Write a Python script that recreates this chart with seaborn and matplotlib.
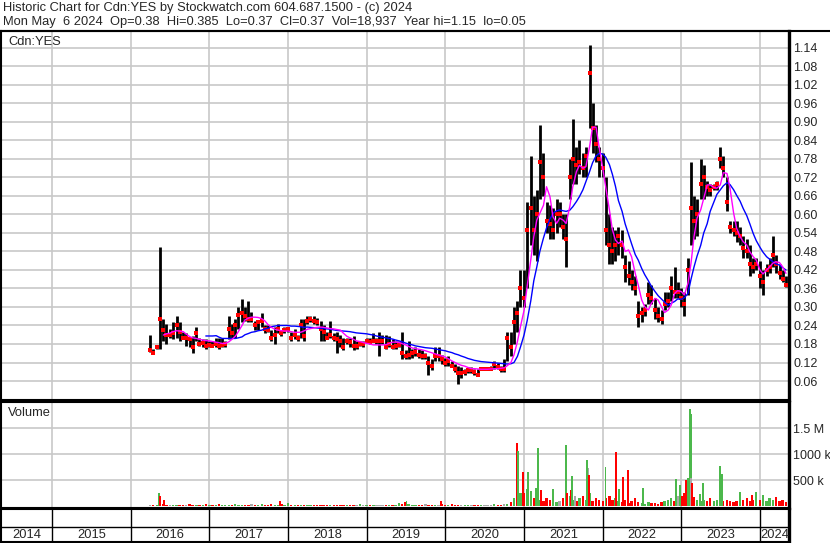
import numpy as np
import pandas as pd
import matplotlib
matplotlib.use("Agg")
import matplotlib.pyplot as plt
import matplotlib.dates as mdates
from matplotlib.lines import Line2D
import seaborn as sns

sns.set_style("white")
plt.rcParams['font.family'] = ['Liberation Sans', 'DejaVu Sans']

# ------------------------------------------------------------
# data: semi-monthly high / low / close ($)
# ------------------------------------------------------------
bar_dates = pd.date_range("2016-04-01", "2024-05-01", freq="SMS")

high_16 = [0.21, 0.165, 0.17, 0.495, 0.26, 0.245, 0.23, 0.25, 0.27, 0.25, 0.22, 0.215, 0.2, 0.205, 0.235, 0.2, 0.195, 0.195]
low_16 = [0.155, 0.15, 0.165, 0.165, 0.19, 0.18, 0.2, 0.195, 0.2, 0.19, 0.195, 0.175, 0.17, 0.15, 0.19, 0.175, 0.17, 0.165]
close_16 = [0.16, 0.15, 0.17, 0.26, 0.225, 0.21, 0.21, 0.215, 0.24, 0.22, 0.2, 0.2, 0.195, 0.17, 0.215, 0.18, 0.182, 0.175]

high_17 = [0.19, 0.19, 0.2, 0.2, 0.2, 0.19, 0.27, 0.245, 0.26, 0.3, 0.325, 0.3, 0.32, 0.285, 0.255, 0.255, 0.28, 0.24, 0.24, 0.225, 0.235, 0.245, 0.225, 0.235]
low_17 = [0.17, 0.17, 0.17, 0.165, 0.17, 0.17, 0.195, 0.2, 0.2, 0.23, 0.25, 0.255, 0.25, 0.25, 0.225, 0.225, 0.235, 0.215, 0.22, 0.19, 0.18, 0.215, 0.205, 0.215]
close_17 = [0.177, 0.175, 0.18, 0.175, 0.178, 0.18, 0.23, 0.215, 0.24, 0.275, 0.28, 0.27, 0.26, 0.26, 0.24, 0.25, 0.255, 0.23, 0.225, 0.2, 0.21, 0.23, 0.215, 0.225]

high_18 = [0.235, 0.22, 0.23, 0.21, 0.26, 0.26, 0.27, 0.27, 0.27, 0.265, 0.255, 0.24, 0.22, 0.255, 0.215, 0.22, 0.21, 0.2, 0.2, 0.2, 0.205, 0.19, 0.19, 0.19]
low_18 = [0.22, 0.19, 0.195, 0.19, 0.2, 0.19, 0.245, 0.25, 0.245, 0.24, 0.19, 0.19, 0.195, 0.2, 0.19, 0.15, 0.17, 0.16, 0.18, 0.17, 0.16, 0.165, 0.175, 0.17]
close_18 = [0.23, 0.2, 0.21, 0.2, 0.24, 0.205, 0.255, 0.26, 0.255, 0.25, 0.23, 0.22, 0.2, 0.21, 0.2, 0.195, 0.19, 0.17, 0.19, 0.185, 0.175, 0.175, 0.18, 0.18]

high_19 = [0.2, 0.2, 0.215, 0.2, 0.22, 0.21, 0.21, 0.205, 0.195, 0.19, 0.19, 0.22, 0.16, 0.19, 0.165, 0.17, 0.165, 0.16, 0.15, 0.14, 0.13, 0.17, 0.17, 0.145]
low_19 = [0.185, 0.18, 0.185, 0.18, 0.14, 0.18, 0.165, 0.17, 0.165, 0.165, 0.17, 0.13, 0.13, 0.13, 0.135, 0.14, 0.135, 0.13, 0.13, 0.08, 0.095, 0.125, 0.125, 0.115]
close_19 = [0.19, 0.185, 0.19, 0.19, 0.19, 0.19, 0.17, 0.18, 0.17, 0.175, 0.178, 0.15, 0.14, 0.145, 0.15, 0.155, 0.145, 0.14, 0.14, 0.12, 0.11, 0.14, 0.14, 0.13]

high_20 = [0.135, 0.14, 0.125, 0.115, 0.11, 0.105, 0.1, 0.105, 0.105, 0.1, 0.1, 0.105, 0.105, 0.105, 0.11, 0.125, 0.12, 0.11, 0.13, 0.22, 0.22, 0.3, 0.32, 0.42]
low_20 = [0.11, 0.11, 0.105, 0.09, 0.05, 0.07, 0.08, 0.085, 0.085, 0.08, 0.075, 0.095, 0.095, 0.095, 0.095, 0.1, 0.1, 0.09, 0.09, 0.125, 0.14, 0.18, 0.22, 0.3]
close_20 = [0.12, 0.125, 0.11, 0.1, 0.085, 0.085, 0.09, 0.095, 0.095, 0.09, 0.08, 0.1, 0.1, 0.1, 0.1, 0.115, 0.105, 0.1, 0.1, 0.2, 0.17, 0.25, 0.28, 0.36]

high_21 = [0.42, 0.64, 0.79, 0.66, 0.68, 0.89, 0.8, 0.64, 0.63, 0.62, 0.65, 0.64, 0.6, 0.6, 0.78, 0.91, 0.82, 0.84, 0.8, 0.82, 1.15, 0.96, 0.89, 0.82]
low_21 = [0.3, 0.36, 0.5, 0.47, 0.45, 0.65, 0.66, 0.54, 0.52, 0.52, 0.54, 0.56, 0.52, 0.43, 0.65, 0.7, 0.7, 0.73, 0.72, 0.72, 0.88, 0.8, 0.77, 0.72]
close_21 = [0.33, 0.55, 0.62, 0.55, 0.6, 0.77, 0.72, 0.58, 0.57, 0.55, 0.6, 0.6, 0.56, 0.52, 0.72, 0.78, 0.76, 0.77, 0.75, 0.79, 1.06, 0.88, 0.83, 0.78]

high_22 = [0.8, 0.72, 0.6, 0.56, 0.55, 0.56, 0.55, 0.47, 0.45, 0.42, 0.4, 0.32, 0.3, 0.31, 0.38, 0.37, 0.33, 0.3, 0.29, 0.35, 0.35, 0.4, 0.43, 0.38]
low_22 = [0.72, 0.5, 0.44, 0.44, 0.45, 0.47, 0.46, 0.38, 0.37, 0.355, 0.34, 0.236, 0.25, 0.27, 0.31, 0.31, 0.26, 0.25, 0.245, 0.29, 0.3, 0.32, 0.33, 0.33]
close_22 = [0.75, 0.55, 0.5, 0.48, 0.5, 0.53, 0.5, 0.43, 0.4, 0.38, 0.36, 0.27, 0.28, 0.29, 0.34, 0.33, 0.29, 0.27, 0.26, 0.31, 0.32, 0.36, 0.35, 0.35]

high_23 = [0.36, 0.35, 0.46, 0.77, 0.66, 0.65, 0.78, 0.76, 0.71, 0.7, 0.7, 0.71, 0.82, 0.79, 0.72, 0.58, 0.58, 0.58, 0.56, 0.53, 0.52, 0.5, 0.46, 0.46]
low_23 = [0.3, 0.27, 0.34, 0.5, 0.52, 0.53, 0.65, 0.65, 0.66, 0.66, 0.68, 0.68, 0.75, 0.72, 0.61, 0.54, 0.53, 0.51, 0.5, 0.46, 0.46, 0.4, 0.41, 0.42]
close_23 = [0.33, 0.31, 0.42, 0.62, 0.58, 0.6, 0.7, 0.72, 0.69, 0.68, 0.69, 0.7, 0.78, 0.75, 0.64, 0.56, 0.55, 0.54, 0.53, 0.49, 0.48, 0.44, 0.43, 0.44]

high_24 = [0.45, 0.42, 0.44, 0.46, 0.53, 0.47, 0.44, 0.42, 0.4]
low_24 = [0.36, 0.34, 0.4, 0.41, 0.43, 0.41, 0.39, 0.38, 0.365]
close_24 = [0.4, 0.38, 0.42, 0.43, 0.47, 0.44, 0.41, 0.39, 0.37]

# moving averages (magenta = 50 day, blue = 200 day)
ma50_16 = [0.209, 0.213, 0.215, 0.22, 0.223, 0.222, 0.22, 0.212, 0.204, 0.2, 0.198, 0.195, 0.193, 0.191]
ma50_17 = [0.19, 0.188, 0.186, 0.184, 0.182, 0.182, 0.187, 0.195, 0.205, 0.22, 0.24, 0.258, 0.264, 0.267, 0.267, 0.266, 0.262, 0.255, 0.242, 0.234, 0.228, 0.225, 0.223, 0.222]
ma50_18 = [0.222, 0.22, 0.218, 0.218, 0.218, 0.222, 0.228, 0.23, 0.232, 0.234, 0.235, 0.234, 0.232, 0.23, 0.229, 0.227, 0.225, 0.215, 0.205, 0.2, 0.195, 0.19, 0.188, 0.185]
ma50_19 = [0.182, 0.18, 0.177, 0.177, 0.177, 0.177, 0.178, 0.182, 0.186, 0.186, 0.185, 0.181, 0.177, 0.172, 0.167, 0.165, 0.163, 0.161, 0.158, 0.155, 0.151, 0.148, 0.144, 0.141]
ma50_20 = [0.138, 0.132, 0.125, 0.12, 0.115, 0.111, 0.108, 0.104, 0.1, 0.1, 0.099, 0.098, 0.098, 0.098, 0.099, 0.1, 0.1, 0.101, 0.103, 0.11, 0.12, 0.145, 0.188, 0.236]
ma50_21 = [0.29, 0.366, 0.453, 0.528, 0.582, 0.604, 0.63, 0.69, 0.658, 0.593, 0.571, 0.588, 0.582, 0.571, 0.625, 0.69, 0.739, 0.76, 0.75, 0.755, 0.82, 0.883, 0.883, 0.82]
ma50_22 = [0.75, 0.69, 0.615, 0.55, 0.517, 0.506, 0.514, 0.48, 0.485, 0.463, 0.409, 0.371, 0.323, 0.301, 0.29, 0.312, 0.328, 0.323, 0.301, 0.282, 0.29, 0.306, 0.344, 0.353]
ma50_23 = [0.35, 0.339, 0.377, 0.442, 0.528, 0.588, 0.615, 0.652, 0.696, 0.696, 0.688, 0.685, 0.696, 0.736, 0.733, 0.685, 0.604, 0.555, 0.528, 0.512, 0.501, 0.479, 0.463, 0.452]
ma50_24 = [0.42, 0.407, 0.42, 0.431, 0.442, 0.447, 0.444, 0.431, 0.409]

ma200_16 = [0.206]
ma200_17 = [0.206, 0.206, 0.207, 0.202, 0.198, 0.198, 0.198, 0.198, 0.198, 0.2, 0.203, 0.21, 0.214, 0.218, 0.22, 0.223, 0.225, 0.229, 0.231, 0.236, 0.238, 0.24, 0.24, 0.24]
ma200_18 = [0.24, 0.238, 0.238, 0.237, 0.236, 0.234, 0.235, 0.234, 0.233, 0.232, 0.231, 0.23, 0.229, 0.228, 0.226, 0.224, 0.223, 0.222, 0.221, 0.22, 0.218, 0.216, 0.215, 0.214]
ma200_19 = [0.213, 0.211, 0.209, 0.206, 0.204, 0.202, 0.2, 0.198, 0.196, 0.193, 0.19, 0.187, 0.183, 0.18, 0.177, 0.174, 0.172, 0.17, 0.168, 0.167, 0.166, 0.164, 0.162, 0.16]
ma200_20 = [0.158, 0.155, 0.152, 0.148, 0.145, 0.141, 0.137, 0.133, 0.13, 0.127, 0.125, 0.123, 0.122, 0.121, 0.12, 0.119, 0.118, 0.117, 0.116, 0.115, 0.116, 0.12, 0.14, 0.17]
ma200_21 = [0.21, 0.255, 0.32, 0.385, 0.43, 0.48, 0.524, 0.556, 0.585, 0.604, 0.612, 0.615, 0.612, 0.61, 0.614, 0.625, 0.642, 0.658, 0.68, 0.707, 0.739, 0.768, 0.79, 0.798]
ma200_22 = [0.796, 0.786, 0.762, 0.73, 0.692, 0.645, 0.61, 0.57, 0.535, 0.505, 0.47, 0.452, 0.425, 0.405, 0.385, 0.367, 0.35, 0.337, 0.326, 0.316, 0.306, 0.312, 0.318, 0.326]
ma200_23 = [0.325, 0.33, 0.344, 0.39, 0.43, 0.465, 0.5, 0.54, 0.57, 0.61, 0.64, 0.665, 0.68, 0.693, 0.703, 0.697, 0.68, 0.662, 0.643, 0.62, 0.596, 0.57, 0.538, 0.515]
ma200_24 = [0.494, 0.478, 0.463, 0.455, 0.447, 0.44, 0.436, 0.428, 0.42]

# volume (millions of shares): semi-monthly background + single-day spikes
vol_16 = [0.03, 0.02, 0.03, 0.06, 0.04, 0.03, 0.02, 0.02, 0.03, 0.02, 0.02, 0.03, 0.04, 0.02, 0.02, 0.03, 0.02, 0.04]
vol_17 = [0.02, 0.03, 0.02, 0.04, 0.02, 0.03, 0.02, 0.03, 0.04, 0.02, 0.03, 0.03, 0.02, 0.04, 0.03, 0.02, 0.05, 0.03, 0.02, 0.05, 0.03, 0.02, 0.04, 0.02]
vol_18 = [0.06, 0.03, 0.02, 0.03, 0.02, 0.03, 0.02, 0.02, 0.03, 0.02, 0.03, 0.02, 0.02, 0.03, 0.02, 0.03, 0.02, 0.02, 0.03, 0.02, 0.02, 0.03, 0.04, 0.03]
vol_19 = [0.02, 0.02, 0.03, 0.02, 0.03, 0.02, 0.02, 0.03, 0.02, 0.03, 0.06, 0.04, 0.08, 0.04, 0.03, 0.02, 0.03, 0.02, 0.04, 0.02, 0.03, 0.02, 0.03, 0.04]
vol_20 = [0.03, 0.02, 0.04, 0.03, 0.02, 0.02, 0.03, 0.02, 0.03, 0.02, 0.02, 0.03, 0.02, 0.03, 0.02, 0.05, 0.03, 0.02, 0.04, 0.05, 0.08, 0.15, 0.3, 0.25]
vol_21 = [0.25, 0.2, 0.3, 0.15, 0.2, 0.12, 0.1, 0.15, 0.12, 0.1, 0.08, 0.1, 0.15, 0.08, 0.2, 0.12, 0.1, 0.15, 0.2, 0.12, 0.25, 0.1, 0.15, 0.12]
vol_22 = [0.1, 0.15, 0.2, 0.12, 0.15, 0.1, 0.08, 0.12, 0.07, 0.1, 0.15, 0.08, 0.06, 0.05, 0.08, 0.06, 0.07, 0.05, 0.08, 0.1, 0.12, 0.15, 0.1, 0.2]
vol_23 = [0.2, 0.25, 0.2, 0.15, 0.18, 0.12, 0.1, 0.12, 0.1, 0.15, 0.1, 0.12, 0.15, 0.1, 0.12, 0.1, 0.08, 0.1, 0.15, 0.12, 0.15, 0.1, 0.12, 0.1]
vol_24 = [0.12, 0.15, 0.1, 0.15, 0.12, 0.18, 0.1, 0.12, 0.08]

spike_dates = ["2016-05-13", "2016-05-17", "2016-06-03", "2017-11-24", "2019-07-05",
               "2019-12-13", "2020-11-27", "2020-12-04", "2020-12-28", "2021-01-13",
               "2021-01-21", "2021-02-25", "2021-03-08", "2021-03-19", "2021-05-13",
               "2021-07-16", "2021-07-20", "2021-08-06", "2021-08-10", "2021-08-25",
               "2021-10-22", "2021-10-27", "2021-10-29", "2022-01-14", "2022-03-02",
               "2022-03-17", "2022-04-04", "2022-04-27", "2022-07-05", "2022-12-06",
               "2022-12-28", "2023-01-23", "2023-01-30", "2023-02-09", "2023-02-14",
               "2023-02-16", "2023-02-20", "2023-03-27", "2023-04-10", "2023-06-28",
               "2023-07-07", "2023-09-29", "2023-11-24", "2023-12-15", "2024-01-15"]
spike_vol = [0.25, 0.2, 0.12, 0.1, 0.1,
             0.1, 1.22, 1.07, 0.66, 0.34,
             0.66, 0.36, 1.125, 0.32, 0.34,
             1.18, 0.26, 0.32, 0.58, 0.2,
             0.89, 0.73, 0.6, 0.76, 1.05,
             0.34, 0.57, 0.7, 0.36, 0.52,
             0.41, 0.5, 0.55, 1.88, 1.77,
             0.54, 0.44, 0.23, 0.44, 0.77,
             0.63, 0.27, 0.22, 0.27, 0.22]
spike_dir = ["up", "down", "down", "down", "up",
             "down", "down", "up", "down", "up",
             "up", "up", "up", "down", "up",
             "up", "down", "down", "up", "flat",
             "up", "flat", "down", "up", "down",
             "up", "down", "down", "up", "up",
             "up", "down", "up", "up", "up",
             "flat", "down", "up", "up", "up",
             "up", "up", "down", "up", "up"]

year_labels = ["2014", "2015", "2016", "2017", "2018", "2019", "2020", "2021", "2022", "2023", "2024"]
price_ticks = [0.06, 0.12, 0.18, 0.24, 0.30, 0.36, 0.42, 0.48, 0.54, 0.60,
               0.66, 0.72, 0.78, 0.84, 0.90, 0.96, 1.02, 1.08, 1.14]
vol_ticks = [500e3, 1000e3, 1500e3]
vol_tick_labels = ["500 k", "1000 k", "1.5 M"]

# ------------------------------------------------------------
# assemble
# ------------------------------------------------------------
high = high_16 + high_17 + high_18 + high_19 + high_20 + high_21 + high_22 + high_23 + high_24
low = low_16 + low_17 + low_18 + low_19 + low_20 + low_21 + low_22 + low_23 + low_24
close = close_16 + close_17 + close_18 + close_19 + close_20 + close_21 + close_22 + close_23 + close_24
ma50 = ma50_16 + ma50_17 + ma50_18 + ma50_19 + ma50_20 + ma50_21 + ma50_22 + ma50_23 + ma50_24
ma200 = ma200_16 + ma200_17 + ma200_18 + ma200_19 + ma200_20 + ma200_21 + ma200_22 + ma200_23 + ma200_24
vol = vol_16 + vol_17 + vol_18 + vol_19 + vol_20 + vol_21 + vol_22 + vol_23 + vol_24

bars = pd.DataFrame({"date": bar_dates, "high": high, "low": low, "close": close,
                     "vol": np.array(vol) * 1e6})
ma50_df = pd.DataFrame({"date": bar_dates[-len(ma50):], "ma": ma50})
ma200_df = pd.DataFrame({"date": bar_dates[-len(ma200):], "ma": ma200})

dir_colors = {"up": "#4cb84c", "down": "#ff0000", "flat": "#a8a8a8"}
chg = np.sign(np.diff(np.r_[close[0], close]))
bars["vcolor"] = [dir_colors["up"] if c > 0 else dir_colors["down"] if c < 0 else dir_colors["flat"] for c in chg]

spikes = pd.DataFrame({"date": pd.to_datetime(spike_dates),
                       "vol": np.array(spike_vol) * 1e6,
                       "color": [dir_colors[d] for d in spike_dir]})

# ------------------------------------------------------------
# figure layout (pixel based, 830 x 543)
# ------------------------------------------------------------
W, H = 830, 543
fig = plt.figure(figsize=(W / 100, H / 100), dpi=100)


def panel(x0, y0, x1, y1):
    return fig.add_axes([x0 / W, 1 - y1 / H, (x1 - x0) / W, (y1 - y0) / H])


ax = panel(1, 31, 789, 400)
axv = panel(1, 402, 789, 508)
axd = panel(1, 509, 789, 542)

x_start, x_end = pd.Timestamp("2014-05-09"), pd.Timestamp("2024-05-15")
grid_kw = dict(color="#c8c8c8", lw=1.2)

for a in (ax, axv, axd):
    a.set_xlim(x_start, x_end)
    for s in a.spines.values():
        s.set_color("black")
        s.set_linewidth(1.5)
    a.spines["right"].set_linewidth(2.4)

# ---------------- price panel ----------------
ax.vlines(bars["date"], bars["low"], bars["high"], color="black", lw=2.0, zorder=3)
sns.scatterplot(data=bars, x="date", y="close", marker="s", s=7, color="#ff0000",
                linewidth=0, ax=ax, zorder=4)
sns.lineplot(data=ma200_df, x="date", y="ma", color="#0000ff", lw=1.0, ax=ax, zorder=5)
sns.lineplot(data=ma50_df, x="date", y="ma", color="#ff00ff", lw=1.0, ax=ax, zorder=6)

ax.set_xlim(x_start, x_end)
ax.set_ylim(-0.0016, 1.195)
ax.set_yticks(price_ticks)
ax.set_yticklabels([f"{v:.2f}" for v in price_ticks])
ax.yaxis.tick_right()
ax.xaxis.set_major_locator(mdates.YearLocator())
ax.tick_params(axis="y", length=0, pad=3, labelsize=9)
ax.tick_params(axis="x", length=0, labelbottom=False)
ax.grid(True, **grid_kw)
ax.set_axisbelow(True)
ax.set_xlabel("")
ax.set_ylabel("")
ax.text(7 / 788, 1 - 11 / 369, "Cdn:YES", transform=ax.transAxes, fontsize=9.3,
        va="center", ha="left")

# ---------------- volume panel ----------------
axv.bar(bars["date"], bars["vol"], width=11, color=bars["vcolor"], linewidth=0, zorder=3)
axv.bar(spikes["date"], spikes["vol"], width=9, color=spikes["color"], linewidth=0, zorder=4)
axv.set_xlim(x_start, x_end)
axv.set_ylim(-0.033e6, 2.006e6)
axv.set_yticks(vol_ticks)
axv.set_yticklabels(vol_tick_labels)
axv.yaxis.tick_right()
axv.xaxis.set_major_locator(mdates.YearLocator())
axv.tick_params(axis="y", length=0, pad=3, labelsize=9)
axv.tick_params(axis="x", length=0, labelbottom=False)
axv.grid(True, **grid_kw)
axv.set_axisbelow(True)
axv.text(7 / 788, 1 - 11 / 106, "Volume", transform=axv.transAxes, fontsize=9.3,
         va="center", ha="left")

# ---------------- date strip ----------------
axd.set_ylim(0, 1)
axd.set_xticks([])
axd.set_yticks([])
bounds = [x_start] + [pd.Timestamp(f"{y}-01-01") for y in range(2015, 2025)] + [x_end]
for b in bounds[1:-1]:
    axd.axvline(b, color="black", lw=1.0)
axd.axhline(0.45, color="black", lw=1.0)
for lab, b0, b1 in zip(year_labels, bounds[:-1], bounds[1:]):
    axd.text(b0 + (b1 - b0) / 2, 0.22, lab, ha="center", va="center", fontsize=9.3)

# ---------------- header ----------------
fig.add_artist(Line2D([0, 1], [1 - 31 / H, 1 - 31 / H], color="black", lw=1.5,
                      transform=fig.transFigure))
fig.text(3 / W, 1 - 8 / H,
         "Historic Chart for Cdn:YES by Stockwatch.com 604.687.1500 - (c) 2024",
         fontsize=9.3, va="center", ha="left")
fig.text(3 / W, 1 - 22 / H,
         "Mon May  6 2024  Op=0.38  Hi=0.385  Lo=0.37  Cl=0.37  Vol=18,937  Year hi=1.15  lo=0.05",
         fontsize=9.3, va="center", ha="left")

fig.savefig("out.png", dpi=100)
